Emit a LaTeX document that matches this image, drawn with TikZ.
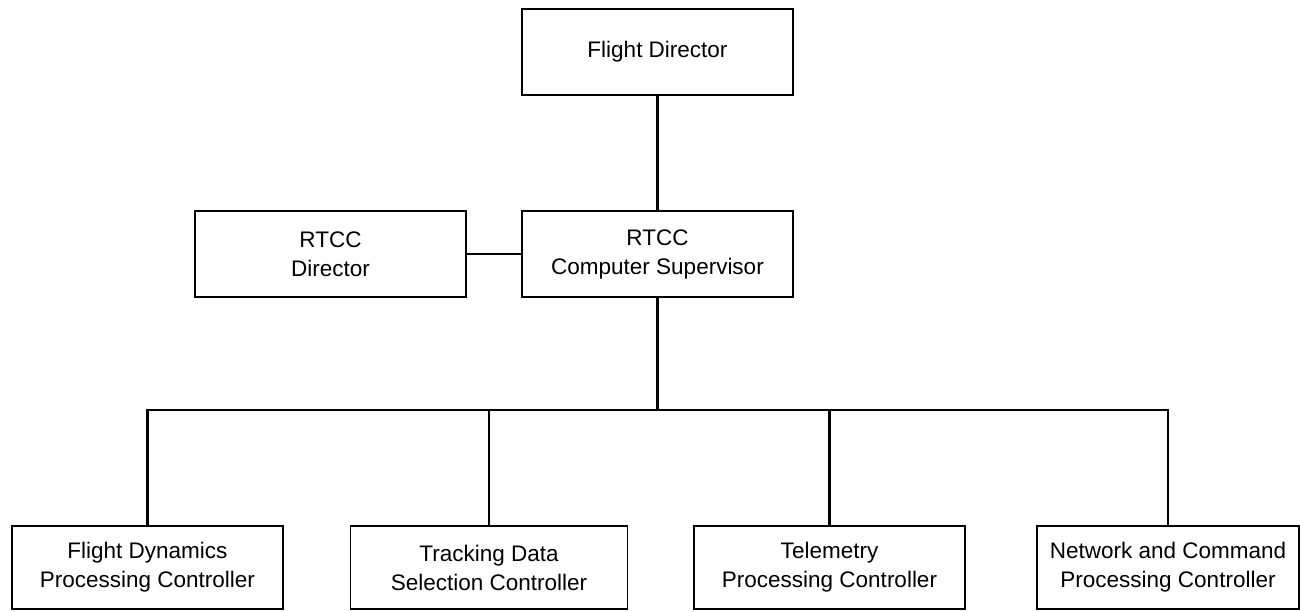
\documentclass[tikz,border=0pt]{standalone}
\usepackage{fontspec}
\setmainfont{Liberation Sans}
\begin{document}
\begin{tikzpicture}[x=1pt,y=1pt,
  box/.style={draw, line width=1.8pt, minimum width=271pt, minimum height=86pt, inner sep=0pt, align=center, font=\fontsize{22.5}{29}\selectfont},
  lowbox/.style={box, minimum height=83pt},
  conn/.style={line width=2.8pt}]
\useasboundingbox (0,0) rectangle (1300,-612);
\node[box] (FD) at (657.5,-52) {Flight Director};
\node[box] (RD) at (330.5,-254) {RTCC\\Director};
\node[box] (CS) at (657.5,-254) {RTCC\\Computer Supervisor};
\node[lowbox] (B1) at (147.5,-567.5) {Flight Dynamics\\Processing Controller};
\node[lowbox, minimum width=277pt] (B2) at (489,-567.5) {Tracking Data\\Selection Controller};
\node[lowbox] (B3) at (829.5,-567.5) {Telemetry\\Processing Controller};
\node[lowbox, minimum width=262pt] (B4) at (1168,-567.5) {Network and Command\\Processing Controller};
\coordinate (bus) at (657.5,-410);
\draw[conn] (FD.south) -- (CS.north);
\draw[conn] (RD.east) -- (CS.west);
\draw[conn] (CS.south) -- (bus);
\draw[conn] (B1.north) -- (B1.north |- bus) -- (B4.north |- bus) -- (B4.north);
\draw[conn] (B2.north |- bus) -- (B2.north);
\draw[conn] (B3.north |- bus) -- (B3.north);
\end{tikzpicture}
\end{document}
